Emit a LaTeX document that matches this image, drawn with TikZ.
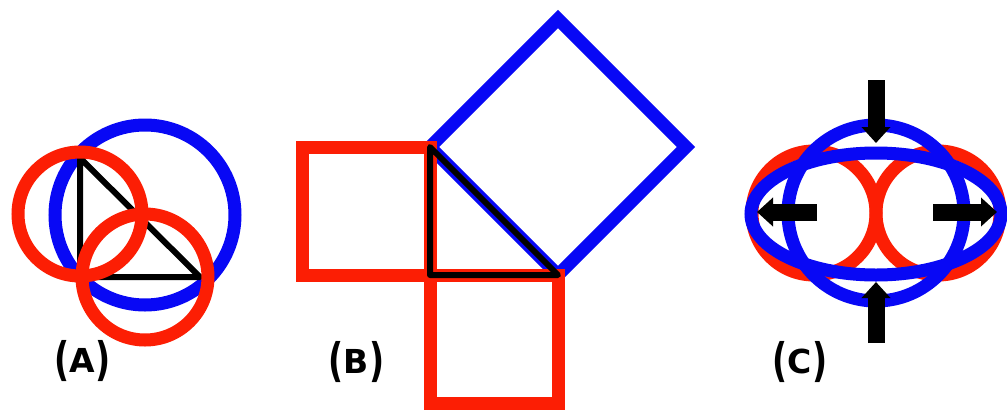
\documentclass[tikz,border=0pt]{standalone}
\usepackage{fontspec}
\usepackage{graphicx}
\newfontfamily\labfont{DejaVu Sans}
\usetikzlibrary{arrows.meta}
\definecolor{myred}{RGB}{252,30,4}
\definecolor{myblue}{RGB}{8,8,245}
\newcommand{\tallparen}[1]{\raisebox{-0.12em}{\scalebox{1}[1.4]{#1}}}
\begin{document}
\begin{tikzpicture}[x=1pt,y=-1pt,
  redline/.style={draw=myred,line width=13pt},
  blueline/.style={draw=myblue,line width=13pt},
  blackline/.style={draw=black,line width=6pt,line join=round},
  pusharrow/.style={draw=black,line width=17pt,-{Triangle[width=28pt,length=16pt]}},
  panellabel/.style={font=\labfont\bfseries\fontsize{33}{33}\selectfont,inner sep=0pt,anchor=base}]

\useasboundingbox (0,0) rectangle (1007,410);
\fill[white] (0,0) rectangle (1007,410);

% ---------- Panel A ----------
\coordinate (At) at (80,158);
\coordinate (Ac) at (80,277);
\coordinate (Ar) at (200,277);
\draw[blueline] (145,215) circle[radius=90pt];
\draw[blackline] (At) -- (Ac) -- (Ar) -- cycle;
\draw[redline] (80,214) circle[radius=62pt];
\draw[redline] (145,277) circle[radius=63pt];
\node[panellabel] (labA) at (82.5,372) {\tallparen{(}A\tallparen{)}};

% ---------- Panel B ----------
\coordinate (Bt) at (430,147);
\coordinate (Bc) at (430,275);
\coordinate (Br) at (558,275);
\coordinate (Bq1) at (558,19);
\coordinate (Bq2) at (686,147);
\draw[blueline] (Bt) -- (Bq1) -- (Bq2) -- (Br) -- cycle;
\draw[redline] (302,147) rectangle (Bc);
\draw[redline] (Bc) rectangle (558,403);
\draw[blackline] (Bt) -- (Bc) -- (Br) -- cycle;
\node[panellabel] (labB) at (356.5,373) {\tallparen{(}B\tallparen{)}};

% ---------- Panel C ----------
\coordinate (Cc) at (876,213);
\draw[redline] (814,213) circle[radius=62pt];
\draw[redline] (938,213) circle[radius=62pt];
\draw[blueline] (Cc) circle[radius=88pt];
\draw[blueline] (876,214) ellipse[x radius=125pt,y radius=61pt];
\coordinate (Tt) at (876,80);  \coordinate (Th) at (876,143);
\coordinate (Bt2) at (876,343); \coordinate (Bh) at (876,282);
\coordinate (Lt) at (817,212); \coordinate (Lh) at (757,212);
\coordinate (Rt) at (933,212); \coordinate (Rh) at (997,212);
\draw[pusharrow] (Tt) -- (Th);
\draw[pusharrow] (Bt2) -- (Bh);
\draw[pusharrow] (Lt) -- (Lh);
\draw[pusharrow] (Rt) -- (Rh);
\node[panellabel] (labC) at (800,373) {\tallparen{(}C\tallparen{)}};
\end{tikzpicture}
\end{document}
